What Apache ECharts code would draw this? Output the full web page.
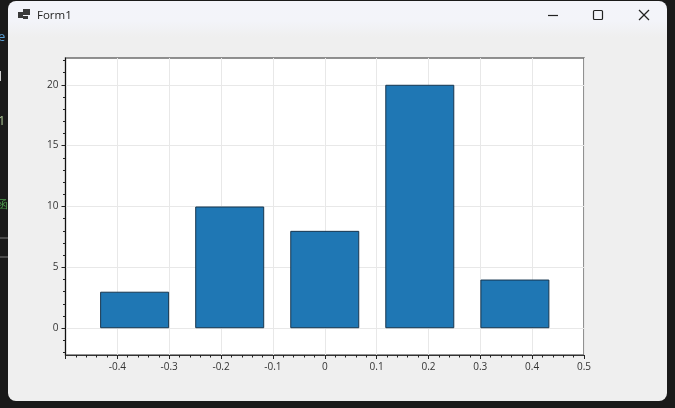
<!DOCTYPE html>
<html>
<head>
<meta charset="utf-8">
<style>html,body{margin:0;padding:0;background:#1a1a1a}#c{width:675px;height:408px}</style>
<script src="https://cdn.jsdelivr.net/npm/echarts@6/dist/echarts.min.js"></script>
</head>
<body>
<div id="c"></div>
<script>
const binCentres = [-0.3667, -0.1833, 0, 0.1833, 0.3667];
const binCounts = [3, 10, 8, 20, 4];
const yMajorTicks = [0, 5, 10, 15, 20];
const yMinorTicks = [-2, -1, 1, 2, 3, 4, 6, 7, 8, 9, 11, 12, 13, 14, 16, 17, 18, 19, 21, 22];
const windowTitle = 'Form1';

const FONT = '"Open Sans", "Noto Sans", sans-serif';
const chart = echarts.init(document.getElementById('c'), null, {renderer: 'canvas'});
const ln = (x1, y1, x2, y2, stroke, w) => ({type: 'line', z: -1, silent: true, shape: {x1, y1, x2, y2}, style: {stroke, lineWidth: w || 1}});
const tx = (x, y, text, fill, size, weight) => ({type: 'text', z: -1, silent: true, x, y, style: {text, fill, font: (weight || 'normal') + ' ' + size + 'px ' + FONT, textVerticalAlign: 'middle'}});
const rc = (x, y, width, height, fill, r) => ({type: 'rect', z: -1, silent: true, shape: {x, y, width, height, r: r || 0}, style: {fill}});

chart.setOption({
  animation: false,
  backgroundColor: '#1a1a1a',
  graphic: {elements: [
    rc(0, 237, 8, 2, '#4a4a4a'),
    rc(0, 256, 8, 2, '#4a4a4a'),
    tx(-2, 37, 'e', '#5a9fd4', 13),
    tx(-2, 77, 'l', '#d8d8d8', 13, 'bold'),
    tx(-2, 121, '1', '#a8c090', 13),
    tx(-3, 205, '函', '#4e9a4e', 11),
    {type: 'rect', z: -1, silent: true,
      shape: {x: 8, y: 1, width: 659, height: 400, r: 8},
      style: {fill: {type: 'linear', x: 0, y: 0, x2: 0, y2: 1, colorStops: [
        {offset: 0, color: '#f3f4fa'}, {offset: 0.05, color: '#f3f4f9'}, {offset: 0.09, color: '#efefef'}, {offset: 1, color: '#efefef'}]}}},
    rc(18, 12, 5, 6, '#3a3a3a'),
    rc(23, 9, 7, 6, '#3a3a3a'),
    rc(23, 16, 5, 3, '#3a3a3a'),
    tx(37, 16, windowTitle, '#222222', 11.5),
    ln(548, 15.5, 558, 15.5, '#222222', 1.2),
    {type: 'rect', z: -1, silent: true, shape: {x: 593.5, y: 10.5, width: 9, height: 9, r: 1}, style: {fill: 'none', stroke: '#222222', lineWidth: 1.2}},
    ln(639, 10, 649, 20, '#222222', 1.2),
    ln(649, 10, 639, 20, '#222222', 1.2)
  ]},
  grid: {left: 65.5, right: 91, top: 58, bottom: 53, show: true, backgroundColor: '#ffffff', borderColor: '#6e6e6e', borderWidth: 1.5, z: 0},
  xAxis: {
    type: 'value', min: -0.5, max: 0.5, interval: 0.1,
    axisLine: {onZero: false, show: true, lineStyle: {color: '#333333', width: 1}},
    axisTick: {show: true, length: 4, lineStyle: {color: '#222222'}},
    minorTick: {show: true, splitNumber: 5, length: 2.5, lineStyle: {color: '#222222'}},
    splitLine: {show: true, lineStyle: {color: '#e8e8e8', width: 1}},
    axisLabel: {show: true, showMinLabel: false, showMaxLabel: true, color: '#333333', fontSize: 10, fontFamily: FONT, margin: 7, hideOverlap: false}
  },
  yAxis: [{
    type: 'value', min: -2.2, max: 22.2,
    axisLine: {onZero: false, show: true, lineStyle: {color: '#111111', width: 1}},
    axisTick: {show: true, length: 4, customValues: yMajorTicks, lineStyle: {color: '#222222'}},
    splitLine: {show: true, lineStyle: {color: '#e8e8e8', width: 1}},
    axisLabel: {show: true, customValues: yMajorTicks, color: '#333333', fontSize: 10, fontFamily: FONT, margin: 7}
  }, {
    type: 'value', min: -2.2, max: 22.2, position: 'left',
    axisLine: {show: false, onZero: false},
    axisTick: {show: true, length: 2.5, customValues: yMinorTicks, lineStyle: {color: '#222222'}},
    splitLine: {show: false},
    axisLabel: {show: false}
  }],
  series: [{
    type: 'bar',
    yAxisIndex: 0,
    barWidth: 69,
    data: binCentres.map((x, i) => [x, binCounts[i]]),
    itemStyle: {color: '#1f77b4', borderColor: '#17364f', borderWidth: 1}
  }]
});
</script>
</body>
</html>
